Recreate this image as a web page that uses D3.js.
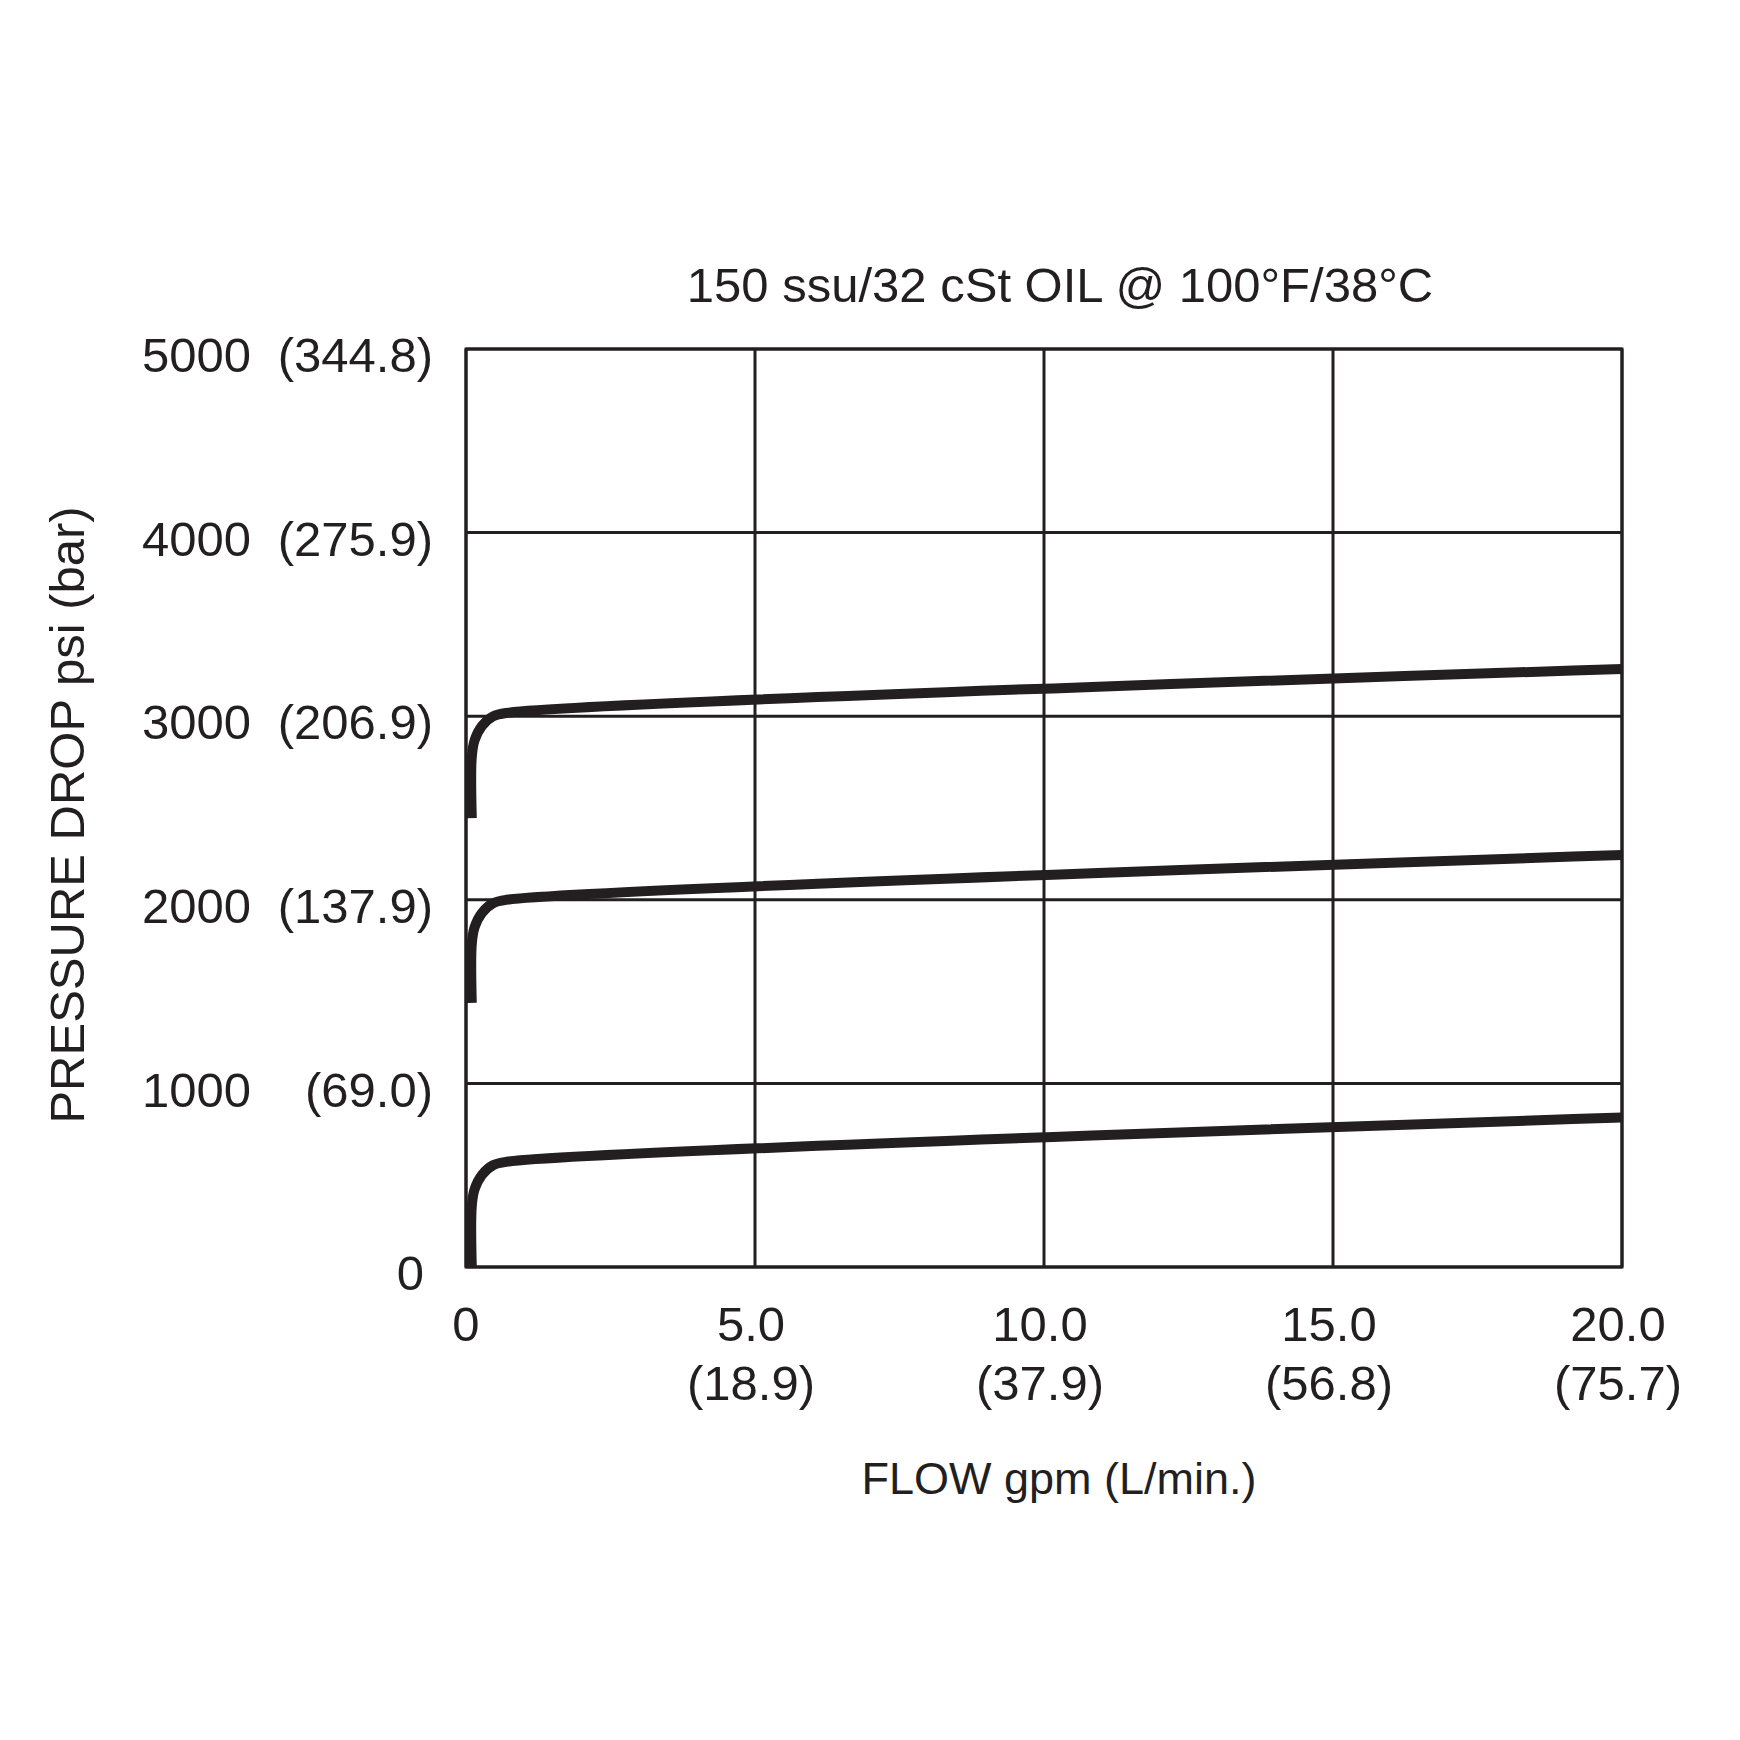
<!DOCTYPE html>
<html>
<head>
<meta charset="utf-8">
<script src="https://cdn.jsdelivr.net/npm/d3@7"></script>
<style>
  body { margin: 0; background: #fff; }
  text { font-family: "Liberation Sans", Arial, Helvetica, sans-serif; fill: #231f20; }
</style>
</head>
<body>
<svg width="1740" height="1740"></svg>
<script>
// data
const psiTicks = [0, 1000, 2000, 3000, 4000, 5000];
const barLabels = ["", "(69.0)", "(137.9)", "(206.9)", "(275.9)", "(344.8)"];
const gpmTicks = [0, 5, 10, 15, 20];
const gpmLabels = ["0", "5.0", "10.0", "15.0", "20.0"];
const lpmLabels = ["", "(18.9)", "(37.9)", "(56.8)", "(75.7)"];

// curves: [gpm, psi]
const lowCurve = [[0.1, 0], [0.1, 332], [0.149, 424], [0.277, 502], [0.467, 554], [0.7, 573], [20, 814]];
const midCurve = [[0.1, 1438], [0.1, 1759], [0.149, 1851], [0.277, 1929], [0.467, 1981], [0.7, 2000], [20, 2244]];
const highCurve = [[0.1, 2445], [0.1, 2778], [0.149, 2869], [0.277, 2947], [0.467, 2999], [0.7, 3018], [20, 3257]];

const title = "150 ssu/32 cSt OIL @ 100°F/38°C";
const xTitle = "FLOW gpm (L/min.)";
const yTitle = "PRESSURE DROP psi (bar)";

const ink = "#231f20";
let svg = d3.select("svg");
svg.append("rect").attr("width", 1740).attr("height", 1740).attr("fill", "#fff");

// plot box
const pLeft = 466, pRight = 1622, pTop = 349, pBottom = 1267;
let xScale = d3.scaleLinear().domain([0, 20]).range([pLeft, pRight]);
let yScale = d3.scaleLinear().domain([0, 5000]).range([pBottom, pTop]);

let grid = svg.append("g").attr("stroke", ink).attr("stroke-width", 3);
grid.selectAll(".h").data(psiTicks).join("line")
  .attr("x1", pLeft).attr("x2", pRight)
  .attr("y1", d => yScale(d)).attr("y2", d => yScale(d));
grid.selectAll(".v").data(gpmTicks).join("line")
  .attr("y1", pTop).attr("y2", pBottom)
  .attr("x1", d => xScale(d)).attr("x2", d => xScale(d));
svg.append("rect")
  .attr("x", pLeft).attr("y", pTop).attr("width", pRight - pLeft).attr("height", pBottom - pTop)
  .attr("fill", "none").attr("stroke", ink).attr("stroke-width", 3);

// curves
let line = d3.line()
  .x(d => xScale(d[0]))
  .y(d => yScale(d[1]))
  .curve(d3.curveCatmullRom.alpha(0.5));
svg.append("g").selectAll("path").data([lowCurve, midCurve, highCurve]).join("path")
  .attr("d", d => line(d))
  .attr("fill", "none").attr("stroke", ink).attr("stroke-width", 10);

const fs = 49;
// y labels
let yl = svg.append("g").attr("font-size", fs);
psiTicks.forEach((v, i) => {
  let y = yScale(v) + 6;
  if (barLabels[i]) {
    yl.append("text").attr("x", 251).attr("y", y).attr("dy", "0.35em")
      .attr("text-anchor", "end").text(v);
    yl.append("text").attr("x", 433).attr("y", y).attr("dy", "0.35em")
      .attr("text-anchor", "end").text(barLabels[i]);
  } else {
    yl.append("text").attr("x", 424).attr("y", y).attr("dy", "0.35em")
      .attr("text-anchor", "end").text(v);
  }
});

// x labels
let xl = svg.append("g").attr("font-size", fs).attr("text-anchor", "middle");
gpmTicks.forEach((v, i) => {
  let x = xScale(v) - (i ? 4 : 0);
  xl.append("text").attr("x", x).attr("y", 1324).attr("dy", "0.35em").text(gpmLabels[i]);
  if (lpmLabels[i]) xl.append("text").attr("x", x).attr("y", 1383).attr("dy", "0.35em").text(lpmLabels[i]);
});

// titles
svg.append("text").attr("x", 1060).attr("y", 285).attr("dy", "0.35em")
  .attr("text-anchor", "middle").attr("font-size", fs).text(title);
svg.append("text").attr("x", 1059).attr("y", 1478).attr("dy", "0.35em")
  .attr("text-anchor", "middle").attr("font-size", 45).text(xTitle);
svg.append("text").attr("transform", "translate(67,815) rotate(-90)").attr("dy", "0.35em")
  .attr("text-anchor", "middle").attr("font-size", fs).text(yTitle);
</script>
</body>
</html>
